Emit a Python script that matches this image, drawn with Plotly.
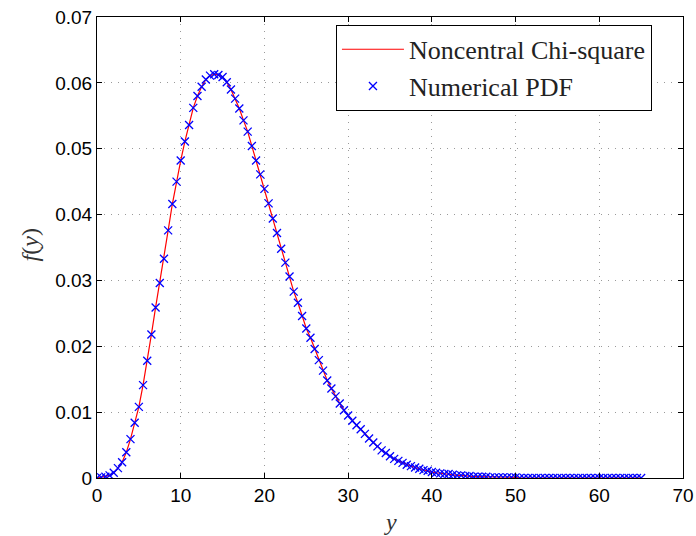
import plotly.graph_objects as go

# sample positions (y) and PDF values
y_vals = [i * 0.5 for i in range(131)]

pdf_numeric = [
    0.0000, 0.0001, 0.0002, 0.0004, 0.0008, 0.0015, 0.0024, 0.0039, 0.0059, 0.0084,
    0.0108, 0.0141, 0.0178, 0.0218, 0.0259, 0.0296, 0.0333, 0.0376, 0.0416, 0.0450,
    0.0482, 0.0511, 0.0536, 0.0562, 0.0580, 0.0594, 0.0605, 0.0611, 0.0613, 0.0612,
    0.0609, 0.0601, 0.0590, 0.0576, 0.0561, 0.0543, 0.0526, 0.0504, 0.0482, 0.0461,
    0.0439, 0.0417, 0.0394, 0.0372, 0.0348, 0.0327, 0.0306, 0.0283, 0.0266, 0.0246,
    0.0227, 0.0213, 0.0196, 0.0179, 0.0163, 0.0148, 0.0136, 0.0124, 0.0113, 0.0103,
    0.0095, 0.0087, 0.0080, 0.0074, 0.0067, 0.0060, 0.0054, 0.0048, 0.0042, 0.0038,
    0.0033, 0.0029, 0.0026, 0.0023, 0.0020, 0.0018, 0.0016, 0.0014, 0.0012, 0.0011,
    0.0009, 0.0008, 0.0007, 0.0006, 0.0006, 0.0005, 0.0004, 0.0004, 0.0003, 0.0003,
    0.0002, 0.0002, 0.0002, 0.0002, 0.0001, 0.0001, 0.0001, 0.0001, 0.0001, 0.0001,
    0.0001, 0.0000, 0.0000, 0.0000, 0.0000, 0.0000, 0.0000, 0.0000, 0.0000, 0.0000,
    0.0000, 0.0000, 0.0000, 0.0000, 0.0000, 0.0000, 0.0000, 0.0000, 0.0000, 0.0000,
    0.0000, 0.0000, 0.0000, 0.0000, 0.0000, 0.0000, 0.0000, 0.0000, 0.0000, 0.0000,
    0.0000,
]
pdf_exact = list(pdf_numeric)

x_ticks = [0, 10, 20, 30, 40, 50, 60, 70]
y_ticks = [0, 0.01, 0.02, 0.03, 0.04, 0.05, 0.06, 0.07]
y_tick_labels = ["0", "0.01", "0.02", "0.03", "0.04", "0.05", "0.06", "0.07"]

fig = go.Figure()
fig.add_trace(go.Scatter(
    x=y_vals, y=pdf_exact, mode="lines", name="Noncentral Chi-square",
    line=dict(color="red", width=1.2),
))
fig.add_trace(go.Scatter(
    x=y_vals, y=pdf_numeric, mode="markers", name="Numerical PDF",
    marker=dict(symbol="x-thin", size=8, line=dict(color="blue", width=1.3), color="blue"),
))

axis_common = dict(
    showline=True, linecolor="black", linewidth=1, mirror="ticks",
    ticks="inside", ticklen=5, tickcolor="black",
    showgrid=True, gridcolor="#9a9a9a", griddash="1px,6px", gridwidth=1,
    zeroline=False, automargin=False,
    tickfont=dict(family="Liberation Sans, Arial, sans-serif", size=19, color="black"),
)

title_font = dict(family="Liberation Serif, serif", size=24, color="#333333")

fig.update_layout(
    width=696, height=536,
    margin=dict(l=97, r=13, t=17, b=58),
    plot_bgcolor="white", paper_bgcolor="white",
    xaxis=dict(range=[0, 70], tickvals=x_ticks, **axis_common),
    yaxis=dict(range=[0, 0.07], tickvals=y_ticks, ticktext=y_tick_labels, **axis_common),
    legend=dict(
        x=0.947, y=0.983, xanchor="right", yanchor="top",
        bgcolor="white", bordercolor="black", borderwidth=1,
        font=dict(family="Liberation Serif, Times New Roman, serif", size=26, color="#222222"),
        tracegroupgap=0, itemwidth=62,
    ),
    annotations=[
        dict(text="<i>y</i>", xref="paper", yref="paper", x=0.5, y=-0.095,
             xanchor="center", yanchor="middle", showarrow=False, font=title_font),
        dict(text="<i>f</i>(<i>y</i>)", xref="paper", yref="paper", x=-0.114, y=0.505,
             xanchor="center", yanchor="middle", showarrow=False, textangle=-90,
             font=title_font),
    ],
)

fig.write_html("out.html")
